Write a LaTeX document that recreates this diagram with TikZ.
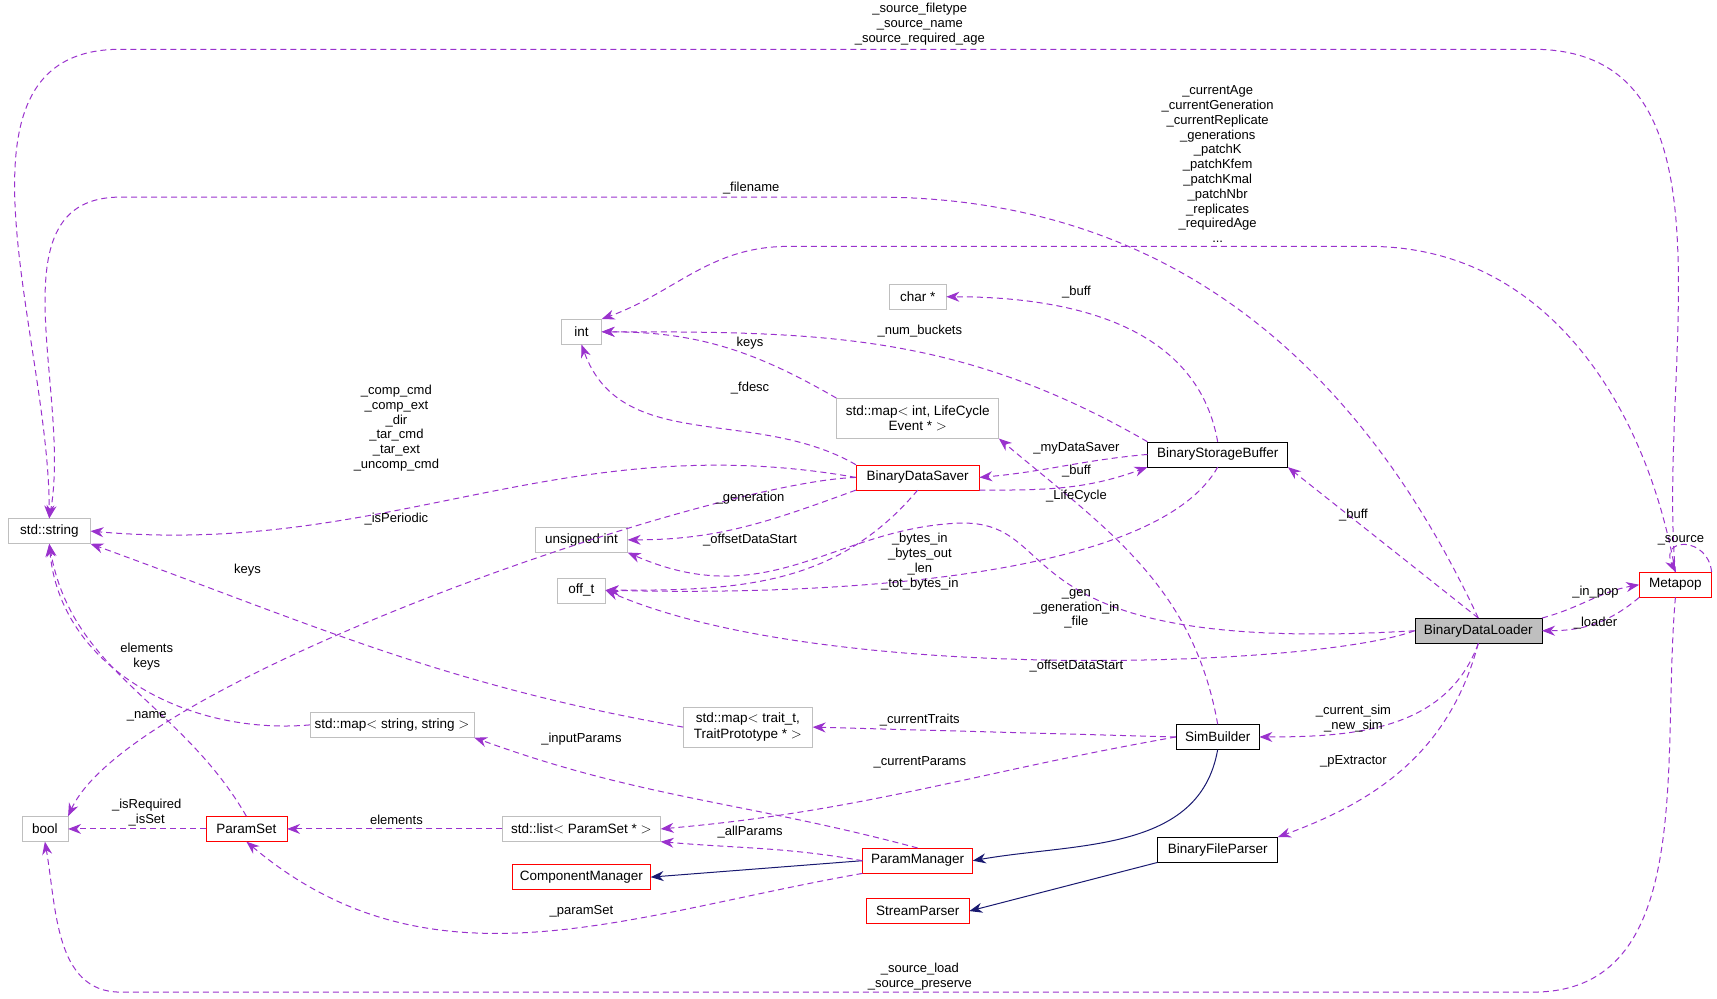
\documentclass[tikz,border=0pt]{standalone}
\usepackage{fontspec}
\setmainfont{Liberation Sans}
\usetikzlibrary{arrows.meta}
\definecolor{edgecolor}{HTML}{9A32CD}
\definecolor{inhcolor}{HTML}{191970}
\definecolor{greycolor}{HTML}{BFBFBF}
\definecolor{redcolor}{HTML}{FF0000}

\tikzset{
    box/.style = {draw, rectangle, minimum height = 25pt, inner sep = 2pt, align = center, fill = white},
    grey/.style = {box, draw = greycolor},
    red/.style = {box, draw = redcolor},
    blk/.style = {box, draw = black},
    rel/.style = {-{Stealth[length = 13pt, width = 10pt]}, dashed, dash pattern = on 6pt off 4pt, edgecolor, line width = 1pt},
    inh/.style = {-{Stealth[length = 13pt, width = 10pt]}, inhcolor, line width = 1pt},
    lbl/.style = {align = center, inner sep = 0pt, font = \fontsize{13}{14.8}\selectfont}
}

\begin{document}
\begin{tikzpicture}[x = 1.095pt, y = -1.095pt, font = \fontsize{13.5}{15.5}\selectfont]
        \useasboundingbox (0, 0) rectangle (1568, 912);

        % Nodes
        \node [grey, minimum width = 82pt] (str) at (45, 485) {std::string};
        \node [grey, minimum width = 46pt] (bool) at (41, 757) {bool};
        \node [grey, minimum width = 40pt] (int) at (531, 303) {int};
        \node [grey, minimum width = 57pt] (chr) at (838, 271) {char *};
        \node [grey, minimum width = 92pt] (uint) at (531, 493) {unsigned int};
        \node [grey, minimum width = 162pt, minimum height = 40pt] (mapint) at (838, 382) {std::map$<$ int, LifeCycle\\Event * $>$};
        \node [grey, minimum width = 48pt] (offt) at (531, 539) {off\_t};
        \node [red, minimum width = 123pt] (saver) at (838, 436) {BinaryDataSaver};
        \node [blk, minimum width = 140pt] (buffer) at (1112, 415) {BinaryStorageBuffer};
        \node [blk, fill = greycolor, minimum width = 127pt] (loader) at (1350, 576) {BinaryDataLoader};
        \node [red, minimum width = 72pt] (metapop) at (1530, 534) {Metapop};
        \node [blk, minimum width = 83pt] (sim) at (1112, 673) {SimBuilder};
        \node [blk, minimum width = 120pt] (parser) at (1112, 776) {BinaryFileParser};
        \node [red, minimum width = 103pt] (stream) at (838, 832) {StreamParser};
        \node [red, minimum width = 110pt] (pmgr) at (838, 786) {ParamManager};
        \node [red, minimum width = 138pt] (cmgr) at (531, 801) {ComponentManager};
        \node [grey, minimum width = 158pt] (plist) at (531, 757) {std::list$<$ ParamSet * $>$};
        \node [red, minimum width = 81pt] (pset) at (225, 757) {ParamSet};
        \node [grey, minimum width = 164pt] (mapss) at (358, 662) {std::map$<$ string, string $>$};
        \node [grey, minimum width = 129pt, minimum height = 40pt] (maptr) at (683, 664) {std::map$<$ trait\_t,\\TraitPrototype * $>$};

        % Inheritance
        \draw [inh] (sim.south) to [out = -100, in = 10] (pmgr.east);
        \draw [inh] (pmgr.west) -- (cmgr.east);
        \draw [inh] (parser.south west) -- (stream.east);

        % Members
        \draw [rel] (metapop.north) to [out = 95, in = 0] (1400, 45) -- (110, 45) to [out = 180, in = 90] (str.north);
        \draw [rel] (loader.north) to [out = 115, in = 0] (800, 180) -- (110, 180) to [out = 180, in = 80] (str.north);
        \draw [rel] (metapop.north) to [out = 100, in = 0] (1250, 225) -- (720, 225) to [out = 180, in = 20] (int.north east);
        \draw [rel] (buffer.north) to [out = 100, in = 0] (chr.east);
        \draw [rel] (buffer.north west) to [out = 150, in = 0] (int.east);
        \draw [rel] (mapint.north west) to [out = 150, in = 0] (int.east);
        \draw [rel] (saver.north west) to [out = 150, in = -70] (int.south);
        \draw [rel] (saver.west) to [out = 170, in = -5] (str.east);
        \draw [rel] (saver.west) .. controls (650, 440) and (120, 620) .. (bool.north east);
        \draw [rel] (saver.south west) to [out = 200, in = 0] (uint.east);
        \draw [rel] (saver.south) to [out = 230, in = 0] (offt.east);
        \draw [rel] (buffer.west) to [out = 185, in = 5] (saver.east);
        \draw [rel] (saver.south east) to [out = 0, in = 200] (buffer.south west);
        \draw [rel] (sim.north) to [out = 100, in = -40] (mapint.south east);
        \draw [rel] (buffer.south) .. controls (1060, 520) and (800, 545) .. (offt.east);
        \draw [rel] (loader.west) .. controls (900, 600) and (980, 470) .. (870, 478) .. controls (760, 485) and (700, 560) .. (uint.south east);
        \draw [rel] (loader.west) .. controls (1200, 610) and (750, 625) .. (offt.east);
        \draw [rel] (loader.north) -- (buffer.south east);
        \draw [rel] (loader.north east) to [out = 15, in = 190] (metapop.west);
        \draw [rel] (metapop.south west) to [out = 220, in = 0] (loader.east);
        \draw [rel] (metapop.north east) .. controls (1560, 490) and (1515, 490) .. (metapop.north);
        \draw [rel] (loader.south) to [out = 250, in = 0] (sim.east);
        \draw [rel] (loader.south) to [out = 255, in = 20] (parser.north east);
        \draw [rel] (metapop.south) to [out = -95, in = 0] (1400, 906) -- (110, 906) to [out = 180, in = -80] (bool.south);
        \draw [rel] (maptr.west) to [out = 170, in = -20] (str.south east);
        \draw [rel] (mapss.west) to [out = 185, in = -85] (str.south);
        \draw [rel] (pset.north) to [out = 120, in = -80] (str.south);
        \draw [rel] (pset.west) -- (bool.east);
        \draw [rel] (plist.west) -- (pset.east);
        \draw [rel] (sim.west) -- (maptr.east);
        \draw [rel] (sim.west) to [out = 190, in = 5] (plist.east);
        \draw [rel] (pmgr.north) to [out = 165, in = -20] (mapss.south east);
        \draw [rel] (pmgr.west) to [out = 170, in = -5] (plist.south east);
        \draw [rel] (pmgr.south west) to [out = 190, in = -40] (pset.south);

        % Labels
        \node [lbl] (l1) at (840, 22) {\_source\_filetype\\\_source\_name\\\_source\_required\_age};
        \node [lbl] (l2) at (686, 172) {\_filename};
        \node [lbl] (l3) at (1112, 150) {\_currentAge\\\_currentGeneration\\\_currentReplicate\\\_generations\\\_patchK\\\_patchKfem\\\_patchKmal\\\_patchNbr\\\_replicates\\\_requiredAge\\...};
        \node [lbl] (l4) at (983, 267) {\_buff};
        \node [lbl] (l5) at (840, 302) {\_num\_buckets};
        \node [lbl] (l6) at (685, 313) {keys};
        \node [lbl] (l7) at (685, 354) {\_fdesc};
        \node [lbl] (l8) at (362, 391) {\_comp\_cmd\\\_comp\_ext\\\_dir\\\_tar\_cmd\\\_tar\_ext\\\_uncomp\_cmd};
        \node [lbl] (l9) at (362, 474) {\_isPeriodic};
        \node [lbl] (l10) at (685, 455) {\_generation};
        \node [lbl] (l11) at (685, 493) {\_offsetDataStart};
        \node [lbl] (l12) at (983, 409) {\_myDataSaver};
        \node [lbl] (l13) at (983, 430) {\_buff};
        \node [lbl] (l14) at (983, 453) {\_LifeCycle};
        \node [lbl] (l15) at (840, 513) {\_bytes\_in\\\_bytes\_out\\\_len\\\_tot\_bytes\_in};
        \node [lbl] (l16) at (983, 556) {\_gen\\\_generation\_in\\\_file};
        \node [lbl] (l17) at (983, 608) {\_offsetDataStart};
        \node [lbl] (l18) at (1236, 470) {\_buff};
        \node [lbl] (l19) at (1457, 541) {\_in\_pop};
        \node [lbl] (l20) at (1457, 569) {\_loader};
        \node [lbl] (l21) at (1535, 493) {\_source};
        \node [lbl] (l22) at (1236, 656) {\_current\_sim\\\_new\_sim};
        \node [lbl] (l23) at (1236, 695) {\_pExtractor};
        \node [lbl] (l24) at (840, 892) {\_source\_load\\\_source\_preserve};
        \node [lbl] (l25) at (226, 521) {keys};
        \node [lbl] (l26) at (134, 600) {elements\\keys};
        \node [lbl] (l27) at (134, 654) {\_name};
        \node [lbl] (l28) at (134, 742) {\_isRequired\\\_isSet};
        \node [lbl] (l29) at (362, 749) {elements};
        \node [lbl] (l30) at (840, 658) {\_currentTraits};
        \node [lbl] (l31) at (840, 696) {\_currentParams};
        \node [lbl] (l32) at (531, 675) {\_inputParams};
        \node [lbl] (l33) at (685, 760) {\_allParams};
        \node [lbl] (l34) at (531, 832) {\_paramSet};

    \end{tikzpicture}
\end{document}
